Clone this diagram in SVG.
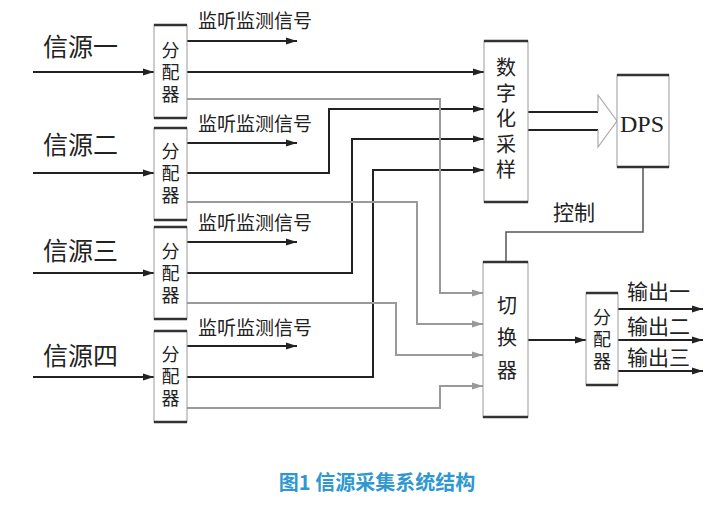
<svg xmlns="http://www.w3.org/2000/svg" width="720" height="505" viewBox="0 0 720 505">
<defs>
<marker id="ab" markerUnits="userSpaceOnUse" markerWidth="12" markerHeight="8" refX="11" refY="4" orient="auto"><path d="M0,0.5 L11,4 L0,7.5 Z" fill="#222"/></marker>
<marker id="ag" markerUnits="userSpaceOnUse" markerWidth="12" markerHeight="8" refX="11" refY="4" orient="auto"><path d="M0,0.5 L11,4 L0,7.5 Z" fill="#999"/></marker>
</defs>
<style>
.side{fill:#fff;stroke:#999;stroke-width:1}
.tb{stroke:#333;stroke-width:2.5;fill:none}
.k{stroke:#222;stroke-width:2;fill:none}
.g{stroke:#9a9a9a;stroke-width:2;fill:none}
.t{font-family:"Noto Sans CJK SC","Noto Sans CJK JP",sans-serif;fill:#222}
.v{writing-mode:vertical-rl;font-family:"Noto Sans CJK SC","Noto Sans CJK JP",sans-serif;fill:#222}
.bx{font-size:18px;letter-spacing:4px}
.src{font-size:25px}
.mon{font-size:19px}
</style>
<rect width="720" height="505" fill="#fff"/>

<g id="connectors">
<line class="k" x1="33" y1="72" x2="154" y2="72" marker-end="url(#ab)"/>
<line class="k" x1="33" y1="173" x2="154" y2="173" marker-end="url(#ab)"/>
<line class="k" x1="33" y1="273" x2="154" y2="273" marker-end="url(#ab)"/>
<line class="k" x1="33" y1="377" x2="154" y2="377" marker-end="url(#ab)"/>
<line class="k" x1="187" y1="41" x2="297" y2="41" marker-end="url(#ab)"/>
<line class="k" x1="187" y1="143" x2="297" y2="143" marker-end="url(#ab)"/>
<line class="k" x1="187" y1="242" x2="297" y2="242" marker-end="url(#ab)"/>
<line class="k" x1="187" y1="346" x2="297" y2="346" marker-end="url(#ab)"/>
<polyline class="k" points="187,72 484,72" marker-end="url(#ab)"/>
<polyline class="k" points="187,173 329,173 329,109 484,109" marker-end="url(#ab)"/>
<polyline class="k" points="187,273 352,273 352,139 484,139" marker-end="url(#ab)"/>
<polyline class="k" points="187,377 373,377 373,170 484,170" marker-end="url(#ab)"/>
<polyline class="g" points="187,99 440,99 440,293 483,293" marker-end="url(#ag)"/>
<polyline class="g" points="187,202 417,202 417,324 483,324" marker-end="url(#ag)"/>
<polyline class="g" points="187,303 396,303 396,355 483,355" marker-end="url(#ag)"/>
<polyline class="g" points="187,408 440,408 440,386 483,386" marker-end="url(#ag)"/>
<line class="k" x1="528" y1="112" x2="598" y2="112"/>
<line class="k" x1="528" y1="130" x2="598" y2="130"/>
<polyline points="598,112 598,95 617,121 598,147 598,130" fill="none" stroke="#aaa" stroke-width="1.2"/>
<polyline points="643,167 643,232 506,232 506,262" fill="none" stroke="#555" stroke-width="1.5"/>
<line class="k" x1="528" y1="340" x2="586" y2="340" marker-end="url(#ab)"/>
<line class="k" x1="618" y1="309" x2="703" y2="309" marker-end="url(#ab)"/>
<line class="k" x1="618" y1="340" x2="703" y2="340" marker-end="url(#ab)"/>
<line class="k" x1="618" y1="371" x2="703" y2="371" marker-end="url(#ab)"/>
</g>

<g id="src-labels">
<text class="t src" x="43" y="56">信源一</text>
<text class="t src" x="43" y="154">信源二</text>
<text class="t src" x="43" y="260">信源三</text>
<text class="t src" x="43" y="365">信源四</text>
</g>
<g id="mon-labels">
<text class="t mon" x="198" y="28">监听监测信号</text>
<text class="t mon" x="198" y="131">监听监测信号</text>
<text class="t mon" x="198" y="230">监听监测信号</text>
<text class="t mon" x="198" y="335">监听监测信号</text>
</g>

<g id="dist1">
<rect class="side" x="154" y="25" width="33" height="93"/>
<line class="tb" x1="154" y1="25" x2="187" y2="25"/><line class="tb" x1="154" y1="118" x2="187" y2="118"/>
<text class="v bx" x="170.5" y="41">分配器</text>
</g>
<g id="dist2">
<rect class="side" x="154" y="128" width="33" height="92"/>
<line class="tb" x1="154" y1="128" x2="187" y2="128"/><line class="tb" x1="154" y1="220" x2="187" y2="220"/>
<text class="v bx" x="170.5" y="142">分配器</text>
</g>
<g id="dist3">
<rect class="side" x="154" y="227" width="33" height="92"/>
<line class="tb" x1="154" y1="227" x2="187" y2="227"/><line class="tb" x1="154" y1="319" x2="187" y2="319"/>
<text class="v bx" x="170.5" y="242">分配器</text>
</g>
<g id="dist4">
<rect class="side" x="154" y="331" width="33" height="91"/>
<line class="tb" x1="154" y1="331" x2="187" y2="331"/><line class="tb" x1="154" y1="422" x2="187" y2="422"/>
<text class="v bx" x="170.5" y="345.5">分配器</text>
</g>

<g id="digitizer">
<rect class="side" x="484" y="41" width="44" height="161"/>
<line class="tb" x1="484" y1="41" x2="528" y2="41"/><line class="tb" x1="484" y1="202" x2="528" y2="202"/>
<text class="v" x="506" y="57.5" font-size="20" letter-spacing="5.5">数字化采样</text>
</g>

<g id="dps">
<rect class="side" x="617" y="75" width="52" height="92"/>
<line class="tb" x1="617" y1="75" x2="669" y2="75"/><line class="tb" x1="617" y1="167" x2="669" y2="167"/>
<text x="642" y="132" font-family="'Liberation Serif',serif" font-size="24" text-anchor="middle" fill="#222">DPS</text>
</g>

<g id="control-label">
<text class="t" x="553" y="220" font-size="21">控制</text>
</g>

<g id="switch">
<rect class="side" x="483" y="262" width="45" height="155"/>
<line class="tb" x1="483" y1="262" x2="528" y2="262"/><line class="tb" x1="483" y1="417" x2="528" y2="417"/>
<text class="v" x="507" y="295" font-size="20" letter-spacing="12.5">切换器</text>
</g>

<g id="dist-out">
<rect class="side" x="586" y="293" width="32" height="92"/>
<line class="tb" x1="586" y1="293" x2="618" y2="293"/><line class="tb" x1="586" y1="385" x2="618" y2="385"/>
<text class="v bx" x="602" y="308.5">分配器</text>
</g>

<g id="out-labels">
<text class="t" x="627" y="299" font-size="21">输出一</text>
<text class="t" x="627" y="334" font-size="21">输出二</text>
<text class="t" x="627" y="365" font-size="21">输出三</text>
</g>

<g id="title">
<text x="377" y="490" font-family="'Noto Sans CJK SC',sans-serif" font-size="20" font-weight="bold" text-anchor="middle" fill="#2e98cf">图1 信源采集系统结构</text>
</g>
</svg>
